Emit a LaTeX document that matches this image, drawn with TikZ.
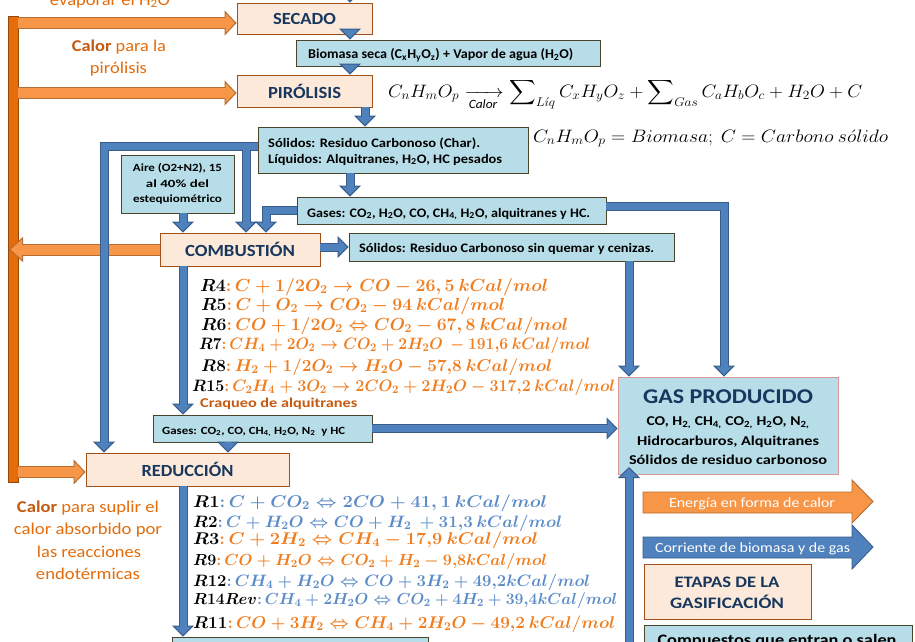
\RequirePackage{fix-cm}
\documentclass[tikz,border=0pt]{standalone}
\usepackage{amsmath}
\usepackage{fontspec}
\setmainfont{Carlito}
\usepackage{graphicx}
\usetikzlibrary{arrows.meta,calc}
\definecolor{stgfill}{HTML}{FDE9D9}
\definecolor{stgdraw}{HTML}{A0501A}
\definecolor{stgtext}{HTML}{17375E}
\definecolor{infofill}{HTML}{B7DEE8}
\definecolor{infodraw}{HTML}{4A452A}
\definecolor{gpdraw}{HTML}{D99694}
\definecolor{bfill}{HTML}{4F81BD}
\definecolor{bdraw}{HTML}{385D8A}
\definecolor{ofill}{HTML}{F79646}
\definecolor{odraw}{HTML}{B66D31}
\definecolor{barfill}{HTML}{E46C0A}
\definecolor{bardraw}{HTML}{984807}
\definecolor{otext}{HTML}{E46C0A}
\definecolor{otextd}{HTML}{C55A11}
\definecolor{eqo}{HTML}{F07D1E}
\definecolor{eqb}{HTML}{5B8CC8}
\newcommand{\fw}[3]{\resizebox{#1pt}{\height}{\fontsize{#2}{#2}\selectfont #3}}
\newcommand{\eqn}[3]{\resizebox{#1pt}{\height}{\fontsize{#2}{#2}\selectfont$#3$}}
\newcommand{\beqn}[3]{\resizebox{#1pt}{\height}{\fontsize{#2}{#2}\selectfont\boldmath$#3$}}
\newcommand{\sbs}[1]{\textsubscript{#1}}
\newcommand{\barr}[1]{\draw[bout] #1; \draw[bin] #1;}
\newcommand{\oarr}[1]{\draw[oout] #1; \draw[oin] #1;}
\begin{document}
\begin{tikzpicture}[x=1pt,y=-1pt,
  stage/.style={draw=stgdraw, fill=stgfill, line width=0.9pt, inner sep=0pt, text=stgtext, font=\bfseries},
  info/.style={draw=infodraw, fill=infofill, line width=0.9pt, inner sep=0pt},
  txt/.style={inner sep=0pt, font=\bfseries},
  bout/.style={draw=bdraw, line width=9pt, -{Triangle[width=22pt,length=11pt,line width=1pt,fill=bfill]}},
  bin/.style={draw=bfill, line width=7pt, shorten >=10pt},
  oout/.style={draw=odraw, line width=12pt, -{Triangle[width=25pt,length=12pt,line width=1pt,fill=ofill]}},
  oin/.style={draw=ofill, line width=10pt, shorten >=11pt}]
\useasboundingbox (0,0) rectangle (915,641);
\clip (0,0) rectangle (915,641);
\fill[white] (0,0) rectangle (915,641);

% ---------- boxes ----------
\node[stage, minimum width=135pt, minimum height=31pt] (sec) at (304.5,18.5) {\fw{63}{17}{SECADO}};
\node[info, minimum width=304pt, minimum height=26pt] (bio) at (448,53) {};
\node[stage, minimum width=135pt, minimum height=32pt] (pir) at (304.5,91) {\fw{73}{17}{PIRÓLISIS}};
\node[info, minimum width=270pt, minimum height=46pt] (sol) at (393,150) {};
\node[info, minimum width=113pt, minimum height=58pt] (aire) at (177.5,184) {};
\node[info, minimum width=309pt, minimum height=27pt] (gas1) at (451.5,210.5) {};
\node[stage, minimum width=160pt, minimum height=33pt] (comb) at (240,249.5) {\fw{110}{17}{COMBUSTIÓN}};
\node[info, minimum width=325pt, minimum height=28pt] (sol2) at (511.5,247) {};
\node[info, minimum width=219pt, minimum height=27pt] (gas3) at (262.5,428.5) {};
\node[info, draw=gpdraw, minimum width=220pt, minimum height=97pt] (gp) at (728,425.5) {};
\node[stage, minimum width=203pt, minimum height=33pt] (red) at (187.5,469.5) {\fw{92}{17}{REDUCCIÓN}};
\node[info, minimum width=256pt, minimum height=43pt] (bl) at (300,658.5) {};
\node[stage, minimum width=167pt, minimum height=55pt] (etapas) at (727.5,591.5) {};
\node[info, minimum width=268pt, minimum height=50pt] (comp) at (778,650) {};

% ---------- box texts ----------
\node[txt, anchor=base west] (biot) at (308,58) {\fw{265}{13.5}{Biomasa seca (C\sbs{x}H\sbs{y}O\sbs{z}) + Vapor de agua (H\sbs{2}O)}};
\node[txt, anchor=base west] (solt1) at (268,147) {\fw{212}{13}{Sólidos: Residuo Carbonoso (Char).}};
\node[txt, anchor=base west] (solt2) at (268,163) {\fw{234}{13}{Líquidos: Alquitranes, H\sbs{2}O, HC pesados}};
\node[txt, anchor=base] (airet1) at (177.5,171.5) {\fw{89}{11}{Aire (O2+N2), 15}};
\node[txt, anchor=base] (airet2) at (177.5,187) {\fw{63}{11}{al 40\% del}};
\node[txt, anchor=base] (airet3) at (177.5,202.5) {\fw{89}{11}{estequiométrico}};
\node[txt, anchor=base west] (gas1t) at (307,217) {\fw{283}{13}{Gases: CO\sbs{2}, H\sbs{2}O, CO, CH\sbs{4,} H\sbs{2}O, alquitranes y HC.}};
\node[txt, anchor=base west] (sol2t) at (359,252) {\fw{295}{13}{Sólidos: Residuo Carbonoso sin quemar y cenizas.}};
\node[txt, anchor=base west] (gas3t) at (162,434) {\fw{183}{11}{Gases: CO\sbs{2}, CO, CH\sbs{4,} H\sbs{2}O, N\sbs{2}\ \ y HC}};
\node[txt, anchor=base, text=stgtext] (gpt0) at (728,403) {\fw{170}{21}{GAS PRODUCIDO}};
\node[txt, anchor=base] (gpt1) at (728,425) {\fw{163}{13.5}{CO, H\sbs{2,} CH\sbs{4,} CO\sbs{2,} H\sbs{2}O, N\sbs{2,}}};
\node[txt, anchor=base] (gpt2) at (728,445) {\fw{182}{13.5}{Hidrocarburos, Alquitranes}};
\node[txt, anchor=base] (gpt3) at (728,464) {\fw{198}{13.5}{Sólidos de residuo carbonoso}};
\node[txt, anchor=base, text=stgtext] (etapast1) at (727,587) {\fw{105}{16}{ETAPAS DE LA}};
\node[txt, anchor=base, text=stgtext] (etapast2) at (727,608) {\fw{114}{16}{GASIFICACIÓN}};
\node[txt, anchor=base] (compt) at (777,645) {\fw{239}{16}{Compuestos que entran o salen}};

% ---------- orange texts ----------
\node[inner sep=0pt, anchor=base, text=otext] (evap) at (110,5) {\fw{120}{16.5}{evaporar el H\sbs{2}O}};
\node[inner sep=0pt, anchor=base, text=otext] (calp1) at (119,51) {\fw{94}{16.5}{\textcolor{otextd}{\bfseries Calor} para la}};
\node[inner sep=0pt, anchor=base, text=otext] (calp2) at (118.5,73) {\fw{57}{16.5}{pirólisis}};
\node[inner sep=0pt, anchor=base, text=otext] (cals1) at (88,512) {\fw{142}{16.5}{\textcolor{otextd}{\bfseries Calor} para suplir el}};
\node[inner sep=0pt, anchor=base, text=otext] (cals2) at (88,534.5) {\fw{148}{16.5}{calor absorbido por}};
\node[inner sep=0pt, anchor=base, text=otext] (cals3) at (89,557) {\fw{104}{16.5}{las reacciones}};
\node[inner sep=0pt, anchor=base, text=otext] (cals4) at (88,579.5) {\fw{104}{16.5}{endotérmicas}};
\node[txt, anchor=base west, text=otextd] (craq) at (200,407) {\fw{157}{13.5}{Craqueo de alquitranes}};

% ---------- equations ----------
\node[inner sep=0pt, anchor=base west] (eqa) at (388,97) {\eqn{474}{18}{\displaystyle C_nH_mO_p \xrightarrow[\mathit{Calor}]{} \sum\nolimits_{L\acute{\imath}q} C_xH_yO_z + \sum\nolimits_{Gas} C_aH_bO_c + H_2O + C}};
\node[inner sep=0pt, anchor=base west] (eqb) at (533,142) {\eqn{355}{18}{C_nH_mO_p = Biomasa;\ C = Carbono\ s\acute{o}lido}};

\node[inner sep=0pt, anchor=base west] (r4) at (200,291) {\beqn{348}{17.5}{R4\textcolor{eqo}{{:}\,C+1/2O_2\rightarrow CO-26,5\ kCal/mol}}};
\node[inner sep=0pt, anchor=base west] (r5) at (201,310) {\beqn{304}{17.5}{R5\textcolor{eqo}{{:}\,C+O_2\rightarrow CO_2-94\ kCal/mol}}};
\node[inner sep=0pt, anchor=base west] (r6) at (201,330) {\beqn{367}{17.5}{R6\textcolor{eqo}{{:}\,CO+1/2O_2\Leftrightarrow CO_2-67,8\ kCal/mol}}};
\node[inner sep=0pt, anchor=base west] (r7) at (199,349) {\beqn{391}{16.5}{R7\textcolor{eqo}{{:}\,CH_4+2O_2\rightarrow CO_2+2H_2O\ -191{,}6\ kCal/mol}}};
\node[inner sep=0pt, anchor=base west] (r8) at (201,371) {\beqn{351}{17}{R8\textcolor{eqo}{{:}\,H_2+1/2O_2\rightarrow H_2O-57{,}8\ kCal/mol}}};
\node[inner sep=0pt, anchor=base west] (r15) at (192,391) {\beqn{423}{16.5}{R15\textcolor{eqo}{{:}\,C_2H_4+3O_2\rightarrow 2CO_2+2H_2O-317{,}2\ kCal/mol}}};

\node[inner sep=0pt, anchor=base west] (r1) at (193,507) {\beqn{354}{17}{R1\textcolor{eqb}{{:}\,C+CO_2\Leftrightarrow 2CO+41,1\ kCal/mol}}};
\node[inner sep=0pt, anchor=base west] (r2) at (193,527) {\beqn{369}{16.5}{R2\textcolor{eqb}{{:}\,C+H_2O\Leftrightarrow CO+H_2\ +31{,}3\ kCal/mol}}};
\node[inner sep=0pt, anchor=base west] (r3) at (193,544) {\beqn{345}{17}{R3\textcolor{eqo}{{:}\,C+2H_2\Leftrightarrow CH_4-17{,}9\ kCal/mol}}};
\node[inner sep=0pt, anchor=base west] (r9) at (193,565) {\beqn{354}{16}{R9\textcolor{eqo}{{:}\,CO+H_2O\Leftrightarrow CO_2+H_2-9{,}8kCal/mol}}};
\node[inner sep=0pt, anchor=base west] (r12) at (193,586) {\beqn{397}{16.5}{R12\textcolor{eqb}{{:}\,CH_4+H_2O\Leftrightarrow CO+3H_2+49{,}2kCal/mol}}};
\node[inner sep=0pt, anchor=base west] (r14) at (193,604) {\beqn{424}{16}{R14Rev\textcolor{eqb}{{:}\,CH_4+2H_2O\Leftrightarrow CO_2+4H_2+39{,}4kCal/mol}}};
\node[inner sep=0pt, anchor=base west] (r11) at (193,628) {\beqn{422}{17}{R11\textcolor{eqo}{{:}\,CO+3H_2\Leftrightarrow CH_4+2H_2O-49{,}2\ kCal/mol}}};

% ---------- guide coordinates ----------
\coordinate (x104) at (104,0);
\coordinate (x183) at (183,0);
\coordinate (x228) at (228,0);
\coordinate (x246) at (246,0);
\coordinate (x266) at (266,0);
\coordinate (x350) at (350,0);
\coordinate (x365) at (365,0);
\coordinate (x629) at (629,0);
\coordinate (x724) at (724,0);
\coordinate (y146) at (0,146);
\coordinate (y206) at (0,206);
\coordinate (topin) at (350,-15);
\coordinate (botin) at (629,660);
\coordinate (jn) at (246,149.5);
\coordinate (gpin) at (629,467);

% ---------- orange heat bar and arrows ----------
\coordinate (o1s) at (18,23);
\coordinate (o2s) at (18,93);
\coordinate (o4s) at (18,472);
\coordinate (o3e) at (9,249.5);
\draw[draw=bardraw, fill=barfill, line width=0.9pt] (8,16) rectangle (18,482);
\oarr{(o1s) -- (o1s -| sec.west)}
\oarr{(o2s) -- (o2s -| pir.west)}
\oarr{(o4s) -- (o4s -| red.west)}
\draw[draw=odraw, line width=12pt, -{Triangle[width=25pt,length=14pt,line width=1pt,fill=ofill]}] (comb.west) -- (o3e);
\draw[draw=ofill, line width=10pt, shorten >=13pt] (comb.west) -- (o3e);

% ---------- blue connectors ----------
\barr{(topin) -- (topin |- sec.north)}
\barr{(sec.south -| x350) -- (bio.north -| x350)}
\barr{(bio.south -| x350) -- (pir.north -| x350)}
\barr{(pir.south -| x365) -- (sol.north -| x365)}
\barr{(sol.south -| x350) -- (gas1.north -| x350)}
\barr{(sol.west |- y146) -| (red.north -| x104)}
\barr{(jn) -- (comb.north -| x246)}
\barr{(aire.south -| x183) -- (comb.north -| x183)}
\barr{(gas1.west) -| (comb.north -| x266)}
\barr{(gas1.east |- y206) -| (gp.north -| x724)}
\barr{(comb.east |- sol2.west) -- (sol2.west)}
\barr{(sol2.south -| x629) -- (gp.north -| x629)}
\barr{(comb.south -| x183) -- (gas3.north -| x183)}
\barr{(gas3.east) -- (gas3.east -| gp.west)}
\barr{(gas3.south -| x228) -- (red.north -| x228)}
\barr{(red.south -| x183) -- (bl.north -| x183)}
\barr{(botin) -- (gpin)}

% ---------- legend ----------
\filldraw[fill=ofill, draw=odraw, line width=0.9pt] (643,492) -- (852,492) -- (852,480) -- (873,501.5) -- (852,523) -- (852,513) -- (643,513) -- cycle;
\filldraw[fill=bfill, draw=bdraw, line width=0.9pt] (643,537) -- (852,537) -- (852,525) -- (873,547) -- (852,569) -- (852,558) -- (643,558) -- cycle;
\node[inner sep=0pt, anchor=base, text=white] (legE) at (752,507) {\fw{166}{14}{Energía en forma de calor}};
\node[inner sep=0pt, anchor=base, text=white] (legB) at (752.5,552) {\fw{195}{14}{Corriente de biomasa y de gas}};
\end{tikzpicture}
\end{document}
